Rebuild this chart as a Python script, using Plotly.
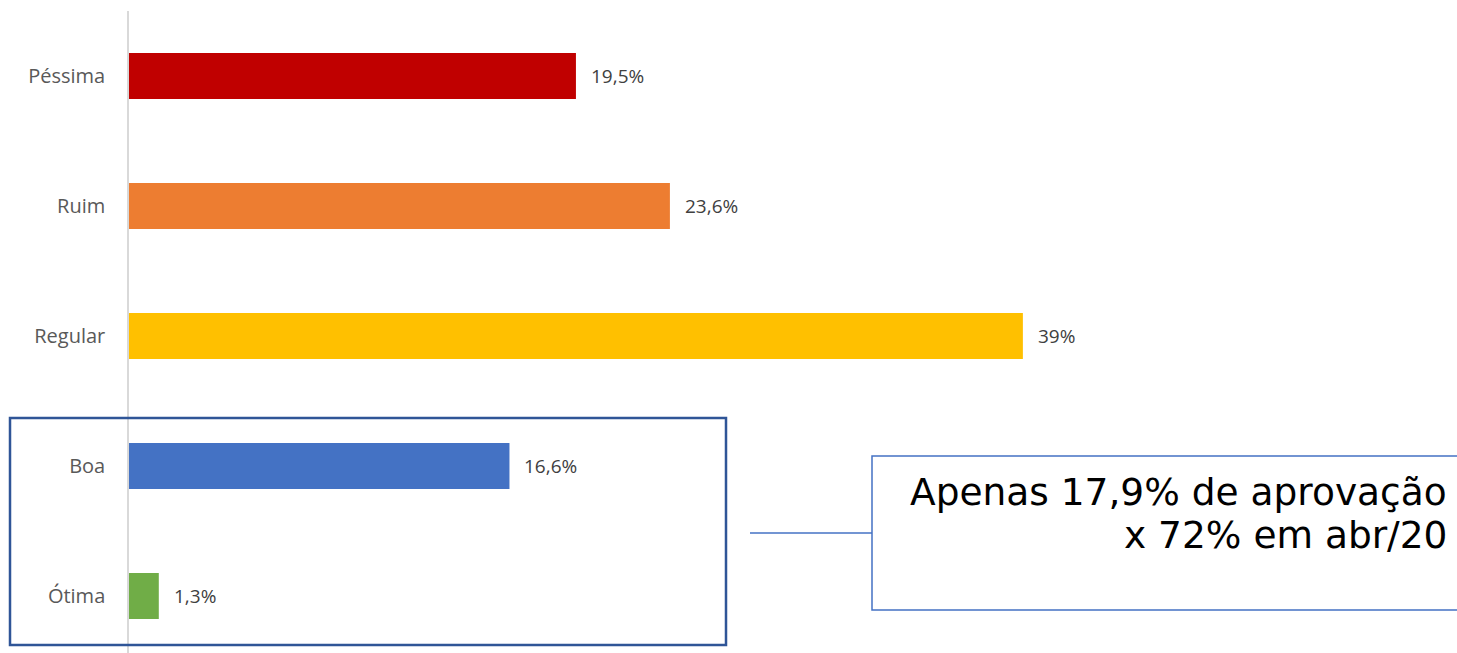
import plotly.graph_objects as go

categorias = ["Péssima", "Ruim", "Regular", "Boa", "Ótima"]
valores = [19.5, 23.6, 39.0, 16.6, 1.3]
rotulos = ["19,5%", "23,6%", "39%", "16,6%", "1,3%"]
cores = ["#C00000", "#ED7D31", "#FFC000", "#4472C4", "#70AD47"]
nota = ["Apenas 17,9% de aprovação", "x 72% em abr/20"]

W, H = 1457, 653
M_L, M_T = 129, 11
PW, PH = W - M_L, H - M_T


def px(x):
    return (x - M_L) / PW


def py(y):
    return (H - y) / PH


fig = go.Figure()
fig.add_trace(go.Bar(
    x=valores, y=categorias,
    orientation="h",
    marker=dict(color=cores, line=dict(width=0)),
    width=0.354,
    hoverinfo="skip",
))

for cat, val, rot in zip(categorias, valores, rotulos):
    fig.add_annotation(
        x=val, y=cat, text=rot, showarrow=False,
        xanchor="left", xshift=13,
        font=dict(family="Open Sans, sans-serif", size=19, color="#404040"),
    )

# caixa em volta de Boa / Ótima
fig.add_shape(type="rect", xref="paper", yref="paper",
              x0=px(10), x1=px(726), y0=py(645), y1=py(418),
              line=dict(color="#2F5597", width=2.5))
# conector + caixa de texto
fig.add_shape(type="line", xref="paper", yref="paper",
              x0=px(750), x1=px(872), y0=py(533), y1=py(533),
              line=dict(color="#4472C4", width=1.3))
fig.add_shape(type="rect", xref="paper", yref="paper",
              x0=px(872), x1=px(1470), y0=py(610), y1=py(456),
              line=dict(color="#4472C4", width=1.5))
for linha, yc in zip(nota, [492, 535]):
    fig.add_annotation(
        xref="paper", yref="paper", x=px(1449), y=py(yc),
        xanchor="right", yanchor="middle", align="right", showarrow=False,
        text=linha,
        font=dict(family="DejaVu Sans, sans-serif", size=37.5, color="#000000"),
    )

fig.update_layout(
    width=W, height=H,
    margin=dict(l=M_L, r=0, t=M_T, b=0),
    paper_bgcolor="#ffffff",
    plot_bgcolor="#ffffff",
    showlegend=False,
    xaxis=dict(range=[0, PW / 22.92], visible=False),
    yaxis=dict(
        range=[(H - 76) / 130, -0.5],
        showline=True, linecolor="#D9D9D9", linewidth=1.5,
        showgrid=False, zeroline=False,
        ticks="outside", ticklen=18, tickcolor="rgba(0,0,0,0)",
        tickfont=dict(family="Open Sans, sans-serif", size=20, color="#595959"),
    ),
)

fig.write_html("out.html", config={"displayModeBar": False},
               post_script="document.body.style.margin='0';")
